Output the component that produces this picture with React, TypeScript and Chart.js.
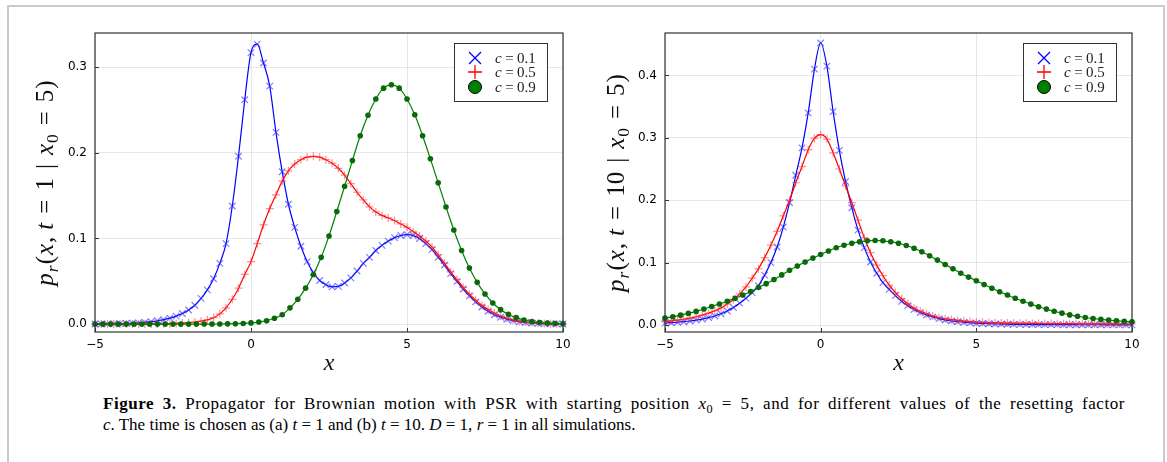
import React, { useEffect, useRef } from 'react';
import { Chart, registerables } from 'chart.js';

Chart.register(...registerables);

// ---------- data ----------
const X_FINE = [-5,-4.8,-4.6,-4.4,-4.2,-4,-3.8,-3.6,-3.4,-3.2,-3,-2.8,-2.6,-2.4,-2.2,-2,-1.8,-1.6,-1.4,-1.2,-1,-0.8,-0.6,-0.4,-0.2,0,0.2,0.4,0.6,0.8,1,1.2,1.4,1.6,1.8,2,2.2,2.4,2.6,2.8,3,3.2,3.4,3.6,3.8,4,4.2,4.4,4.6,4.8,5,5.2,5.4,5.6,5.8,6,6.2,6.4,6.6,6.8,7,7.2,7.4,7.6,7.8,8,8.2,8.4,8.6,8.8,9,9.2,9.4,9.6,9.8,10];
const X_COARSE = [-5,-4.75,-4.5,-4.25,-4,-3.75,-3.5,-3.25,-3,-2.75,-2.5,-2.25,-2,-1.75,-1.5,-1.25,-1,-0.75,-0.5,-0.25,0,0.25,0.5,0.75,1,1.25,1.5,1.75,2,2.25,2.5,2.75,3,3.25,3.5,3.75,4,4.25,4.5,4.75,5,5.25,5.5,5.75,6,6.25,6.5,6.75,7,7.25,7.5,7.75,8,8.25,8.5,8.75,9,9.25,9.5,9.75,10];

// panel (a): t = 1
const BLUE_A = [0.0002,0.0002,0.0003,0.0004,0.0006, 0.0008,0.0011,0.0015,0.0021,0.0029, 0.0039,0.0052,0.0070,0.0093,0.0124, 0.0165,0.022,0.030,0.040,0.053, 0.071,0.094,0.138,0.196,0.262, 0.317,0.327,0.305,0.278,0.224, 0.178,0.140,0.113,0.091,0.073, 0.060,0.051,0.046,0.0435,0.044, 0.048,0.054,0.062,0.071,0.078, 0.086,0.092,0.097,0.101,0.1035, 0.1045,0.1035,0.100,0.094,0.087, 0.078,0.069,0.059,0.050,0.041, 0.033,0.026,0.020,0.015,0.011, 0.0080,0.0057,0.0040,0.0028,0.0019, 0.0013,0.0009,0.0006,0.0004,0.0003, 0.0002];
const RED_A = [0,0,0,0,0, 0.0001,0.0001,0.0001,0.0001,0.0002, 0.0002,0.0003,0.0005,0.0008,0.0012, 0.0018,0.0025,0.0035,0.0050,0.0075, 0.012,0.019,0.029,0.042,0.058, 0.073,0.094,0.116,0.135,0.151, 0.167,0.179,0.187,0.192,0.195, 0.196,0.195,0.192,0.188,0.182, 0.174,0.164,0.154,0.145,0.137, 0.131,0.127,0.124,0.121,0.117, 0.113,0.108,0.103,0.097,0.090, 0.081,0.071,0.061,0.052,0.043, 0.035,0.028,0.022,0.017,0.013, 0.0095,0.0068,0.0048,0.0034,0.0024, 0.0016,0.0011,0.0007,0.0005,0.0003, 0.0002];
const GREEN_A = [0,0,0,0,0, 0,0,0,0,0, 0,0,0,0,0.0001, 0.0001,0.0002,0.0003,0.0005,0.0008, 0.0014,0.0024,0.0040,0.0068,0.0110, 0.019,0.029,0.042,0.058,0.078, 0.103,0.1315,0.161,0.191,0.220, 0.244,0.263,0.2756,0.2795,0.2756, 0.263,0.2445,0.220,0.193,0.165, 0.1368,0.110,0.086,0.0655,0.0488, 0.0352,0.0247,0.0169,0.0115,0.0076, 0.0048,0.0030,0.0019,0.0012,0.0008, 0.0005];

// panel (b): t = 10
const BLUE_B = [0.0031,0.0037,0.0044,0.0053,0.0064, 0.0078,0.0095,0.0118,0.0145,0.0180, 0.0225,0.0280,0.0350,0.0430,0.0520, 0.063,0.080,0.100,0.125,0.157, 0.196,0.240,0.284,0.340,0.410, 0.452,0.415,0.342,0.280,0.230, 0.188,0.152,0.124,0.101,0.083, 0.068,0.057,0.047,0.038,0.031, 0.025,0.020,0.016,0.013,0.0102, 0.0080,0.0064,0.0052,0.0042,0.0035, 0.0029,0.0024,0.0020,0.0017,0.0014, 0.0012,0.0011,0.0010,0.0009,0.0008, 0.0007,0.0007,0.0006,0.0006,0.0005, 0.0005,0.0005,0.0004,0.0004,0.0004, 0.0004,0.0003,0.0003,0.0003,0.0003, 0.0003];
const RED_B = [0.0055,0.0065,0.0077,0.0092,0.0110, 0.0132,0.0158,0.0190,0.0228,0.0275, 0.0335,0.0410,0.0500,0.0610,0.0750, 0.090,0.108,0.128,0.150,0.175, 0.200,0.228,0.254,0.281,0.299, 0.305,0.298,0.276,0.250,0.223, 0.196,0.168,0.140,0.116,0.096, 0.079,0.064,0.052,0.042,0.034, 0.027,0.022,0.018,0.0145,0.012, 0.0100,0.0085,0.0073,0.0063,0.0055, 0.0048,0.0043,0.0039,0.0036,0.0033, 0.0031,0.0029,0.0028,0.0027,0.0026, 0.0025,0.0024,0.0023,0.0022,0.0021, 0.0021,0.0020,0.0019,0.0019,0.0018, 0.0018,0.0017,0.0017,0.0016,0.0016, 0.0016];
const GREEN_B = [0.0110,0.0133,0.0158,0.0186,0.0218, 0.0256,0.0297,0.0337,0.0380,0.0428, 0.0480,0.0538,0.0600,0.0663,0.0730, 0.0803,0.0878,0.0945,0.1010,0.1072, 0.1130,0.1187,0.1238,0.1278,0.1310, 0.1335,0.1350,0.1355,0.1350,0.1335, 0.1310,0.1275,0.1230,0.1175,0.1110, 0.1040,0.0970,0.0900,0.0830,0.0768, 0.0710,0.0650,0.0590,0.0533,0.0480, 0.0428,0.0380,0.0335,0.0292,0.0255, 0.0220,0.0190,0.0162,0.0140,0.0120, 0.0104,0.0090,0.0078,0.0068,0.0060, 0.0053];

const X_TICKS = [-5, 0, 5, 10];
const Y_TICKS_A = [0, 0.1, 0.2, 0.3];
const Y_TICKS_B = [0, 0.1, 0.2, 0.3, 0.4];
const LEGEND_LABELS = ['0.1', '0.5', '0.9'];
const T_VALUES = ['1', '10'];

const BLUE = '#0000ff';
const RED = '#ff0000';
const GREEN = '#008000';

const SERIF = '"Liberation Serif", "DejaVu Serif", serif';
const SANS = '"DejaVu Sans", sans-serif';

type Seg = { t: string; it?: boolean; sub?: boolean; gap?: number };

function titleSegs(tVal: string): Seg[] {
  const G = 8;
  return [
    { t: 'p', it: true },
    { t: 'r', it: true, sub: true },
    { t: '(' },
    { t: 'x', it: true },
    { t: ',', gap: 6 },
    { t: 't', it: true, gap: G },
    { t: '=', gap: G },
    { t: tVal, gap: G },
    { t: '|', gap: G },
    { t: 'x', it: true },
    { t: '0', sub: true, gap: G },
    { t: '=', gap: G },
    { t: '5' },
    { t: ')' },
  ];
}

function drawMath(ctx: CanvasRenderingContext2D, segs: Seg[], cx: number, cy: number, size: number, rotate: boolean, extra: number) {
  const fontOf = (s: Seg) => {
    const sz = s.sub ? size * 0.7 : size;
    return `${s.it ? 'italic ' : ''}${sz}px ${SERIF}`;
  };
  let total = 0;
  const widths = segs.map((s) => {
    ctx.font = fontOf(s);
    const w = ctx.measureText(s.t).width + extra;
    total += w + (s.gap || 0);
    return w;
  });
  ctx.save();
  ctx.translate(cx, cy);
  if (rotate) ctx.rotate(-Math.PI / 2);
  ctx.fillStyle = '#111';
  ctx.textBaseline = 'alphabetic';
  ctx.textAlign = 'left';
  let u = -total / 2;
  const base = size * 0.3;
  segs.forEach((s, i) => {
    ctx.font = fontOf(s);
    ctx.fillText(s.t, u, base + (s.sub ? size * 0.22 : 0));
    u += widths[i] + (s.gap || 0);
  });
  ctx.restore();
}

type PanelProps = {
  left: number;
  width: number;
  area: { left: number; right: number; top: number; bottom: number };
  yMin: number;
  yMax: number;
  yTicks: number[];
  tVal: string;
  yTitleCx: number;
  blue: number[];
  red: number[];
  green: number[];
};

const H = 385;

function pts(xs: number[], ys: number[]) {
  return xs.map((x, i) => ({ x, y: ys[i] }));
}

function Panel(p: PanelProps) {
  const ref = useRef<HTMLCanvasElement | null>(null);
  useEffect(() => {
    const canvas = ref.current!;
    const yAxisW = p.area.left - p.left;
    const xAxisH = 48;
    const padBottom = H - p.area.bottom - xAxisH;
    const padRight = p.left + p.width - p.area.right;
    const titleSize = 24;

    const framePlugin = {
      id: 'frameAndLegend',
      afterDraw(chart: any) {
        const { ctx, chartArea: a } = chart;
        const xs = chart.scales.x;
        const ys = chart.scales.y;
        ctx.save();
        // frame
        ctx.strokeStyle = '#333';
        ctx.lineWidth = 1.2;
        ctx.strokeRect(a.left, a.top, a.right - a.left, a.bottom - a.top);
        // inward ticks
        ctx.lineWidth = 1;
        ctx.beginPath();
        xs.ticks.forEach((t: any) => {
          const px = Math.round(xs.getPixelForValue(t.value)) + 0.5;
          ctx.moveTo(px, a.bottom);
          ctx.lineTo(px, a.bottom - 4);
        });
        ys.ticks.forEach((t: any) => {
          const py = Math.round(ys.getPixelForValue(t.value)) + 0.5;
          ctx.moveTo(a.left, py);
          ctx.lineTo(a.left + 4, py);
        });
        ctx.stroke();

        // legend
        const bw = 93, bh = 58;
        const bx = a.right - 16 - bw;
        const by = a.top + 10;
        ctx.fillStyle = '#fff';
        ctx.fillRect(bx, by, bw, bh);
        ctx.strokeStyle = '#333';
        ctx.lineWidth = 1;
        ctx.strokeRect(bx + 0.5, by + 0.5, bw, bh);
        const rows = [by + 15, by + 29, by + 44];
        const mx = bx + 21;
        ctx.strokeStyle = BLUE;
        ctx.lineWidth = 1.3;
        ctx.beginPath();
        ctx.moveTo(mx - 6, rows[0] - 6); ctx.lineTo(mx + 6, rows[0] + 6);
        ctx.moveTo(mx + 6, rows[0] - 6); ctx.lineTo(mx - 6, rows[0] + 6);
        ctx.stroke();
        ctx.strokeStyle = RED;
        ctx.beginPath();
        ctx.moveTo(mx - 7, rows[1]); ctx.lineTo(mx + 7, rows[1]);
        ctx.moveTo(mx, rows[1] - 7); ctx.lineTo(mx, rows[1] + 7);
        ctx.stroke();
        ctx.fillStyle = GREEN;
        ctx.strokeStyle = '#000';
        ctx.lineWidth = 1;
        ctx.beginPath();
        ctx.arc(mx, rows[2], 6.5, 0, Math.PI * 2);
        ctx.fill();
        ctx.stroke();
        ctx.fillStyle = '#222';
        ctx.textBaseline = 'alphabetic';
        ctx.textAlign = 'left';
        const tx = bx + 41;
        rows.forEach((ry, i) => {
          const yb = ry + 5;
          let x = tx;
          ctx.font = `italic 15px ${SERIF}`;
          ctx.fillText('c', x, yb);
          x += ctx.measureText('c').width + 3.5;
          ctx.font = `15px ${SERIF}`;
          ctx.fillText('=', x, yb);
          x += ctx.measureText('=').width + 3.5;
          ctx.fillText(LEGEND_LABELS[i], x, yb);
        });

        // y-axis title (math)
        drawMath(ctx, titleSegs(p.tVal), p.yTitleCx - p.left, (a.top + a.bottom) / 2, 25, true, 1);
        ctx.restore();
      },
    };

    const chart = new Chart(canvas, {
      type: 'line',
      data: {
        datasets: [
          {
            label: 'c = 0.1',
            data: pts(X_FINE, p.blue),
            borderColor: BLUE,
            borderWidth: 1.2,
            pointStyle: 'crossRot',
            pointRadius: 4.6,
            pointBorderColor: 'rgba(40,40,255,0.6)',
            pointBackgroundColor: 'rgba(0,0,0,0)',
            pointBorderWidth: 1.2,
            cubicInterpolationMode: 'monotone',
            clip: false,
            order: 3,
          } as any,
          {
            label: 'c = 0.5',
            data: pts(X_FINE, p.red),
            borderColor: RED,
            borderWidth: 1.2,
            pointStyle: 'cross',
            pointRadius: 4,
            pointBorderColor: 'rgba(255,50,50,0.55)',
            pointBackgroundColor: 'rgba(0,0,0,0)',
            pointBorderWidth: 1.2,
            cubicInterpolationMode: 'monotone',
            clip: false,
            order: 2,
          } as any,
          {
            label: 'c = 0.9',
            data: pts(X_COARSE, p.green),
            borderColor: GREEN,
            borderWidth: 1.2,
            pointStyle: 'circle',
            pointRadius: 2.8,
            pointBorderColor: '#0a6a0a',
            pointBackgroundColor: '#0a6a0a',
            pointBorderWidth: 0,
            cubicInterpolationMode: 'monotone',
            clip: false,
            order: 1,
          } as any,
        ],
      },
      options: {
        responsive: false,
        animation: false,
        devicePixelRatio: 1,
        layout: { padding: { left: 0, top: p.area.top, right: padRight, bottom: padBottom } },
        plugins: { legend: { display: false }, tooltip: { enabled: false } },
        scales: {
          x: {
            type: 'linear',
            min: -5,
            max: 10,
            afterBuildTicks: (s: any) => { s.ticks = X_TICKS.map((v) => ({ value: v })); },
            afterFit: (s: any) => { s.height = xAxisH; },
            ticks: {
              padding: 6,
              color: '#000',
              font: { family: SANS, size: 12 },
              maxRotation: 0,
              callback: (v: any) => (Number(v) < 0 ? '\u2212' + Math.abs(Number(v)) : String(v)),
            },
            grid: { color: 'rgba(0,0,0,0.09)', lineWidth: 1, drawTicks: false },
            border: { display: false },
            title: {
              display: true,
              text: 'x',
              color: '#111',
              font: { family: SERIF, size: titleSize, style: 'italic' },
              padding: { top: 0, bottom: 2 },
            },
          },
          y: {
            type: 'linear',
            min: p.yMin,
            max: p.yMax,
            afterBuildTicks: (s: any) => { s.ticks = p.yTicks.map((v) => ({ value: v })); },
            afterFit: (s: any) => { s.width = yAxisW; },
            ticks: {
              padding: 8,
              color: '#000',
              font: { family: SANS, size: 12 },
              callback: (v: any) => Number(v).toFixed(1),
            },
            grid: { color: 'rgba(0,0,0,0.09)', lineWidth: 1, drawTicks: false },
            border: { display: false },
            title: { display: false },
          },
        },
      },
      plugins: [framePlugin],
    } as any);
    return () => chart.destroy();
  }, []);
  return (
    <div style={{ position: 'absolute', left: p.left, top: 0, width: p.width, height: H }}>
      <canvas ref={ref} width={p.width} height={H} style={{ width: p.width, height: H, display: 'block' }} />
    </div>
  );
}

const subStyle: React.CSSProperties = { fontSize: '0.72em', position: 'relative', top: '0.3em', verticalAlign: 'baseline', lineHeight: 0 };

export default function App() {
  return (
    <div style={{ position: 'absolute', left: 0, top: 0, width: 1167, height: 462, background: '#fff', overflow: 'hidden' }}>
      <div style={{ position: 'absolute', left: 7, top: 5, width: 1154, height: 500, border: '2px solid #cacaca' }} />
      <Panel
        left={0}
        width={580}
        area={{ left: 95, right: 563, top: 33, bottom: 332 }}
        yMin={-0.0092}
        yMax={0.34}
        yTicks={Y_TICKS_A}
        tVal={T_VALUES[0]}
        yTitleCx={45}
        blue={BLUE_A}
        red={RED_A}
        green={GREEN_A}
      />
      <Panel
        left={580}
        width={587}
        area={{ left: 665, right: 1132, top: 33, bottom: 332 }}
        yMin={-0.0112}
        yMax={0.468}
        yTicks={Y_TICKS_B}
        tVal={T_VALUES[1]}
        yTitleCx={616}
        blue={BLUE_B}
        red={RED_B}
        green={GREEN_B}
      />
      <div
        style={{
          position: 'absolute',
          left: 103,
          top: 393,
          fontFamily: SERIF,
          fontSize: 17,
          lineHeight: '21px',
          color: '#000',
        }}
      >
        <div style={{ width: 1022, letterSpacing: '0.55px', textAlign: 'justify', textAlignLast: 'justify' as any }}>
          <b>Figure 3.</b> Propagator for Brownian motion with PSR with starting position <i>x</i>
          <span style={subStyle}>0</span> = 5, and for different values of the resetting factor
        </div>
        <div style={{ whiteSpace: 'nowrap' }}>
          <i>c</i>. The time is chosen as (a) <i>t</i> = 1 and (b) <i>t</i> = 10. <i>D</i> = 1, <i>r</i> = 1 in all simulations.
        </div>
      </div>
    </div>
  );
}
